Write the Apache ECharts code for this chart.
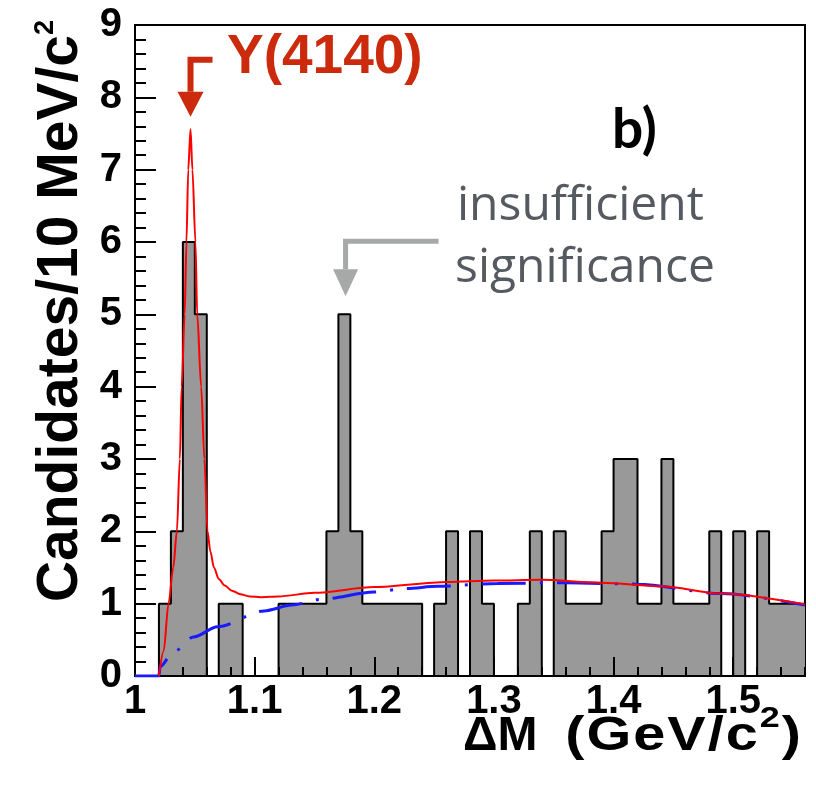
<!DOCTYPE html>
<html>
<head>
<meta charset="utf-8">
<script src="https://cdn.jsdelivr.net/npm/echarts@6/dist/echarts.min.js"></script>
<style>
  html, body { margin: 0; padding: 0; background: #fff; }
  #chart { width: 816px; height: 795px; }
</style>
</head>
<body>
<div id="chart"></div>
<script>
// histogram, 10 MeV bins from 1.00 GeV
const binStart = 1.00;
const binWidth = 0.01;
const binCounts = [
  0, 0, 1, 2, 6, 5, 0, 1, 1, 0,
  0, 0, 1, 1, 1, 1, 2, 5, 2, 1,
  1, 1, 1, 1, 0, 1, 2, 0, 2, 1,
  0, 0, 1, 2, 0, 2, 1, 1, 1, 2,
  3, 3, 1, 1, 3, 1, 1, 1, 2, 0,
  2, 0, 2, 1, 1, 1
];

// total fit (red)
const fitX = [1.020, 1.024, 1.028, 1.032, 1.035, 1.0375, 1.039, 1.0415, 1.043, 1.0445,
  1.0464, 1.048, 1.0505, 1.052, 1.0553, 1.058, 1.0606, 1.063, 1.066, 1.070,
  1.075, 1.081, 1.088, 1.096, 1.105, 1.120, 1.150, 1.200, 1.261, 1.300,
  1.339, 1.390, 1.440, 1.490, 1.560];
const fitY = [0.0, 0.35, 1.0, 1.5, 2.0, 3.0, 4.0, 5.0, 6.0, 7.0,
  7.56, 7.0, 6.0, 5.0, 4.0, 3.0, 2.0, 1.72, 1.5, 1.34,
  1.25, 1.18, 1.13, 1.10, 1.09, 1.10, 1.15, 1.23, 1.30, 1.32,
  1.33, 1.29, 1.24, 1.14, 0.99];

// background (blue dashed)
const bkgX = [1.000, 1.020, 1.021, 1.032, 1.049, 1.069, 1.108, 1.131, 1.155, 1.200,
  1.226, 1.253, 1.303, 1.360, 1.420, 1.490, 1.560];
const bkgY = [0.0, 0.0, 0.13, 0.33, 0.54, 0.68, 0.90, 0.98, 1.06, 1.16,
  1.21, 1.24, 1.28, 1.29, 1.27, 1.14, 0.98];

const xTicks = [1, 1.1, 1.2, 1.3, 1.4, 1.5];
const yTicks = [0, 1, 2, 3, 4, 5, 6, 7, 8, 9];

const FONT = "'Liberation Sans', Arial, Helvetica, sans-serif";

const histData = binCounts.map((c, i) => [+(binStart + i * binWidth).toFixed(2), c]);
histData.push([+(binStart + binCounts.length * binWidth).toFixed(2), binCounts[binCounts.length - 1]]);

const chart = echarts.init(document.getElementById('chart'));

const tickLabel = v => {
  const hit = xTicks.find(t => Math.abs(t - v) < 1e-6);
  return hit === undefined ? '' : String(hit);
};

chart.setOption({
  animation: false,
  backgroundColor: '#fff',
  grid: {
    left: 135, right: 11, top: 25, bottom: 119,
    show: true, borderColor: '#000', borderWidth: 2, backgroundColor: 'transparent'
  },
  xAxis: [
    {
      type: 'value', min: 1, max: 1.56, interval: 0.1, z: 10,
      axisLine: { show: true, onZero: false, lineStyle: { color: '#000', width: 2 } },
      axisTick: { show: true, inside: true, length: 19, lineStyle: { color: '#000', width: 2 } },
      axisLabel: {
        show: true, margin: 6, showMaxLabel: false, formatter: tickLabel,
        color: '#000', fontFamily: FONT, fontWeight: 'bold', fontSize: 40
      },
      splitLine: { show: false }
    },
    {
      type: 'value', min: 1, max: 1.56, interval: 0.02, position: 'bottom', z: 10,
      axisLine: { show: false, onZero: false },
      axisTick: { show: true, inside: true, length: 9, lineStyle: { color: '#000', width: 2 } },
      axisLabel: { show: false },
      splitLine: { show: false }
    }
  ],
  yAxis: {
    type: 'value', min: 0, max: 9, interval: 1, z: 10,
    axisLine: { show: true, lineStyle: { color: '#000', width: 2 } },
    axisTick: { show: true, inside: true, length: 21, lineStyle: { color: '#000', width: 2 } },
    minorTick: { show: true, splitNumber: 5, length: 11, lineStyle: { color: '#000', width: 2 } },
    axisLabel: {
      margin: 13, color: '#000', fontFamily: FONT, fontWeight: 'bold', fontSize: 40,
      formatter: v => (yTicks.indexOf(v) >= 0 ? String(v) : '')
    },
    splitLine: { show: false }
  },
  series: [
    {
      name: 'data', type: 'line', step: 'end', xAxisIndex: 0,
      data: histData, symbol: 'none', z: 2,
      lineStyle: { color: '#000', width: 2 },
      areaStyle: { color: '#999999', opacity: 1 }
    },
    {
      name: 'background', type: 'line', xAxisIndex: 0,
      data: bkgX.map((x, i) => [x, bkgY[i]]), symbol: 'none', z: 11,
      smooth: 0.3, smoothMonotone: 'x',
      lineStyle: { color: '#1a1aff', width: 3, type: [44, 14, 3, 14] }
    },
    {
      name: 'fit', type: 'line', xAxisIndex: 0,
      data: fitX.map((x, i) => [x, fitY[i]]), symbol: 'none', z: 12,
      smooth: 0.3, smoothMonotone: 'x',
      lineStyle: { color: '#ff0000', width: 2 }
    }
  ]
});

// annotations
const redTip = chart.convertToPixel({ xAxisIndex: 0, yAxisIndex: 0 }, [1.0464, 7.73]);
const grayTip = chart.convertToPixel({ xAxisIndex: 0, yAxisIndex: 0 }, [1.176, 5.25]);
const RED = '#cc2a0c';
const GRAY = '#a5a9a8';

// x axis title: the unit part is set wider in the original, so stretch each glyph a little
const ctx = document.createElement('canvas').getContext('2d');
const textWidth = (s, font) => { ctx.font = font; return ctx.measureText(s).width; };
const xNameFont = 'bold 48px ' + FONT;
const xSupFont = 'bold 30px ' + FONT;
const stretch = 1.2;
const unitGlyphs = [['(', 0], ['G', 0], ['e', 0], ['V', 0], ['/', 0], ['c', 0], ['2', 1], [')', 0]];
const unitEls = [];
let cursor = 801;
for (let i = unitGlyphs.length - 1; i >= 0; i--) {
  const [ch, sup] = unitGlyphs[i];
  const font = sup ? xSupFont : xNameFont;
  cursor -= textWidth(ch, font) * stretch;
  unitEls.push({
    type: 'text', x: cursor, y: sup ? 719 : 737, scaleX: stretch, z: 20,
    style: { text: ch, fill: '#000', font: font, align: 'left', verticalAlign: 'middle' }
  });
  cursor -= 2;
}

chart.setOption({
  graphic: [
    {
      type: 'text', x: 61, y: 20, rotation: Math.PI / 2, z: 20,
      style: {
        text: '{b|Candidates/10 MeV/c}{s|2}', align: 'right', verticalAlign: 'middle',
        rich: {
          b: { fontFamily: FONT, fontWeight: 'bold', fontSize: 57, lineHeight: 57, fill: '#000' },
          s: { fontFamily: FONT, fontWeight: 'bold', fontSize: 27, lineHeight: 27, padding: [0, 0, 53, 0], verticalAlign: 'top', fill: '#000' }
        }
      }
    },
    {
      type: 'text', x: 463, y: 737, z: 20,
      style: { text: '\u0394M', fill: '#000', font: xNameFont, align: 'left', verticalAlign: 'middle' }
    },
    ...unitEls,
    {
      type: 'text', x: 227, y: 58, z: 20,
      style: { text: 'Y(4140)', fill: RED, font: 'bold 55px ' + FONT, align: 'left', verticalAlign: 'middle' }
    },
    {
      type: 'text', x: 612, y: 130, z: 20,
      style: { text: 'b)', fill: '#000', font: 'bold 55px Lato, ' + FONT, align: 'left', verticalAlign: 'middle' }
    },
    {
      type: 'text', x: 457, y: 206, z: 20,
      style: { text: 'insufficient', fill: '#555a61', font: '48px "Open Sans", Lato, sans-serif', align: 'left', verticalAlign: 'middle' }
    },
    {
      type: 'text', x: 455, y: 268, z: 20,
      style: { text: 'significance', fill: '#555a61', font: '48px "Open Sans", Lato, sans-serif', align: 'left', verticalAlign: 'middle' }
    },
    {
      type: 'polyline', z: 20,
      shape: { points: [[redTip[0], redTip[1] - 25], [redTip[0], redTip[1] - 57], [redTip[0] + 22, redTip[1] - 57]] },
      style: { stroke: RED, lineWidth: 6, fill: null }
    },
    {
      type: 'polygon', z: 20,
      shape: { points: [[redTip[0] - 13, redTip[1] - 25], [redTip[0] + 13, redTip[1] - 25], [redTip[0], redTip[1]]] },
      style: { fill: RED }
    },
    {
      type: 'polyline', z: 20,
      shape: { points: [[grayTip[0], grayTip[1] - 27], [grayTip[0], grayTip[1] - 55], [grayTip[0] + 93, grayTip[1] - 55]] },
      style: { stroke: GRAY, lineWidth: 5, fill: null }
    },
    {
      type: 'polygon', z: 20,
      shape: { points: [[grayTip[0] - 12.5, grayTip[1] - 27], [grayTip[0] + 12.5, grayTip[1] - 27], [grayTip[0], grayTip[1]]] },
      style: { fill: GRAY }
    }
  ]
});
</script>
</body>
</html>
